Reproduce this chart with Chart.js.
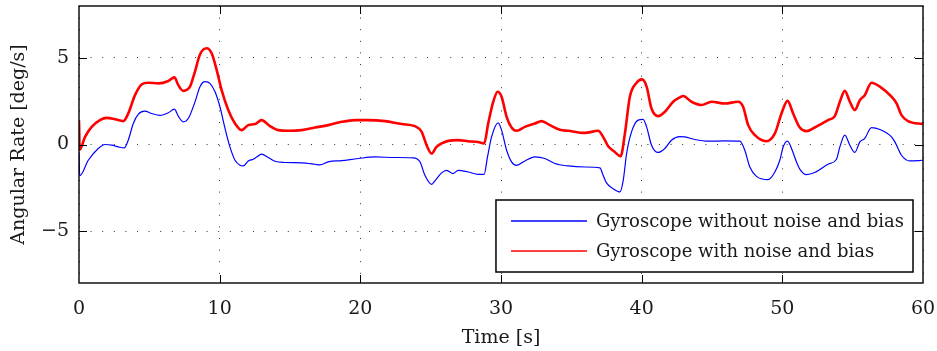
<!DOCTYPE html>
<html>
<head>
<meta charset="utf-8">
<title>Gyroscope angular rate</title>
<script src="https://cdn.jsdelivr.net/npm/chart.js@4/dist/chart.umd.min.js"></script>
<style>
  html, body { margin: 0; padding: 0; background: #fff; }
  #wrap { width: 937px; height: 351px; }
</style>
</head>
<body>
<div id="wrap"><canvas id="gyroChart"></canvas></div>
<script>
// time [s] and angular rate [deg/s] for the ideal gyroscope
const timeClean = [0, 0.05, 0.66, 1.37, 1.85, 2.33, 2.8, 3.22, 3.5, 3.86, 4.22, 4.69, 5.17, 5.76, 6.35, 6.78, 7.06, 7.41, 7.77, 8.24, 8.6, 8.96, 9.31, 9.67, 10.02, 10.38, 10.73, 11.09, 11.44, 11.68, 12.03, 12.39, 12.63, 12.98, 13.45, 13.93, 14.64, 15.83, 16.77, 17.13, 17.72, 18.67, 19.85, 21.04, 22.46, 23.76, 24.24, 24.59, 25.07, 25.3, 25.78, 26.13, 26.6, 26.96, 27.67, 28.38, 28.8, 29.04, 29.33, 29.8, 30.04, 30.4, 30.75, 31.11, 31.7, 32.41, 33.12, 33.83, 34.78, 35.96, 37.03, 37.26, 37.5, 37.97, 38.45, 38.69, 38.93, 39.28, 39.75, 40.1, 40.35, 40.7, 41.17, 41.65, 42.12, 42.71, 43.07, 43.78, 44.73, 45.91, 46.98, 47.33, 47.69, 48.16, 48.99, 49.47, 49.82, 50.06, 50.37, 50.7, 51.0, 51.24, 51.71, 52.3, 53.25, 53.85, 54.09, 54.44, 54.8, 55.15, 55.51, 55.86, 56.34, 56.93, 57.76, 58.0, 58.47, 59.06, 60];
const rateClean = [-0.45, -1.8, -0.91, -0.23, 0.0, -0.04, -0.14, -0.2, 0.25, 1.21, 1.75, 1.93, 1.79, 1.68, 1.83, 2.04, 1.64, 1.31, 1.5, 2.45, 3.34, 3.63, 3.53, 3.05, 2.18, 0.93, -0.14, -0.91, -1.2, -1.24, -0.95, -0.85, -0.72, -0.56, -0.75, -0.97, -1.04, -1.06, -1.14, -1.18, -1.0, -0.93, -0.81, -0.72, -0.75, -0.77, -1.0, -1.78, -2.3, -2.1, -1.64, -1.49, -1.68, -1.49, -1.59, -1.72, -1.72, -0.72, 0.44, 1.25, 0.83, -0.33, -1.0, -1.2, -0.95, -0.72, -0.81, -1.1, -1.24, -1.3, -1.35, -1.78, -2.22, -2.55, -2.74, -2.07, -0.52, 0.73, 1.41, 1.45, 1.02, -0.04, -0.46, -0.23, 0.25, 0.46, 0.44, 0.29, 0.19, 0.21, 0.19, -0.33, -1.3, -1.84, -2.03, -1.59, -0.91, -0.14, 0.19, -0.33, -1.0, -1.42, -1.74, -1.62, -1.14, -0.85, -0.14, 0.54, -0.04, -0.46, 0.15, 0.35, 0.98, 0.87, 0.44, 0.15, -0.62, -0.95, -0.91];

// same motion, measured with noise and bias
const timeNoisy = [0, 0.05, 0.43, 0.9, 1.49, 1.97, 2.56, 3.15, 3.5, 3.98, 4.45, 4.93, 5.64, 6.35, 6.78, 7.06, 7.41, 7.89, 8.24, 8.6, 9.08, 9.43, 9.79, 10.14, 10.61, 11.09, 11.56, 12.03, 12.51, 12.98, 13.57, 14.16, 14.88, 15.83, 16.77, 17.72, 18.67, 19.62, 20.56, 21.75, 22.93, 23.88, 24.36, 24.71, 25.07, 25.4, 25.78, 26.25, 26.96, 27.67, 28.38, 28.8, 29.09, 29.45, 29.76, 30.04, 30.4, 30.75, 31.11, 31.7, 32.41, 32.88, 33.48, 34.19, 34.78, 35.96, 36.91, 37.26, 37.62, 38.09, 38.5, 38.81, 39.16, 39.64, 40.03, 40.35, 40.7, 41.17, 41.65, 42.24, 42.71, 42.95, 43.54, 44.25, 44.97, 45.91, 46.86, 47.21, 47.57, 48.05, 48.87, 49.47, 49.94, 50.37, 50.77, 51.24, 51.71, 52.3, 53.25, 53.73, 54.09, 54.44, 54.8, 55.15, 55.51, 55.86, 56.34, 56.93, 57.76, 58.12, 58.47, 58.94, 60];
const rateNoisy = [1.4, -0.3, 0.44, 1.02, 1.41, 1.54, 1.46, 1.35, 1.79, 2.85, 3.47, 3.57, 3.53, 3.67, 3.88, 3.43, 3.1, 3.34, 4.2, 5.2, 5.56, 5.27, 4.3, 3.14, 1.99, 1.21, 0.83, 1.12, 1.18, 1.41, 1.06, 0.83, 0.79, 0.83, 0.98, 1.12, 1.31, 1.41, 1.41, 1.35, 1.18, 1.06, 0.73, -0.04, -0.52, -0.15, 0.06, 0.21, 0.25, 0.19, 0.14, 0.06, 1.21, 2.47, 3.05, 2.76, 1.6, 0.98, 0.79, 1.02, 1.21, 1.35, 1.12, 0.85, 0.79, 0.67, 0.79, 0.44, -0.1, -0.43, -0.68, 0.64, 2.76, 3.57, 3.76, 3.34, 2.08, 1.64, 1.89, 2.47, 2.72, 2.8, 2.47, 2.28, 2.47, 2.37, 2.47, 2.18, 1.12, 0.54, 0.19, 0.64, 1.79, 2.52, 1.79, 0.98, 0.77, 0.98, 1.41, 1.64, 2.47, 3.1, 2.47, 1.99, 2.56, 2.85, 3.57, 3.34, 2.76, 2.37, 1.7, 1.35, 1.18];

const xTicks = [0, 10, 20, 30, 40, 50, 60];
const yTicks = [-5, 0, 5];
const seriesLabels = ['Gyroscope without noise and bias', 'Gyroscope with noise and bias'];

const serif = "'DejaVu Serif', serif";
Chart.defaults.font.family = serif;
Chart.defaults.font.size = 18;
Chart.defaults.color = '#1a1a1a';

const toPoints = (xs, ys) => xs.map((x, i) => ({ x: x, y: ys[i] }));

// dotted grid, same look on both axes
const gridOpts = { color: '#333', lineWidth: 1, drawTicks: false };
const borderOpts = { display: false, dash: [1, 10.6] };

// closed frame with inward tick marks
const framePlugin = {
    id: 'frame',
    afterDatasetsDraw(chart) {
        const { ctx, chartArea: a, scales } = chart;
        ctx.save();
        ctx.strokeStyle = '#000';
        ctx.lineWidth = 1.4;
        ctx.strokeRect(a.left, a.top, a.right - a.left, a.bottom - a.top);
        ctx.lineWidth = 1;
        const len = 8;
        ctx.beginPath();
        xTicks.slice(1, -1).forEach(v => {
            const px = Math.round(scales.x.getPixelForValue(v)) + 0.5;
            ctx.moveTo(px, a.bottom); ctx.lineTo(px, a.bottom - len);
            ctx.moveTo(px, a.top); ctx.lineTo(px, a.top + len);
        });
        yTicks.forEach(v => {
            const py = Math.round(scales.y.getPixelForValue(v)) + 0.5;
            ctx.moveTo(a.left, py); ctx.lineTo(a.left + len, py);
            ctx.moveTo(a.right, py); ctx.lineTo(a.right - len, py);
        });
        ctx.stroke();
        ctx.restore();
    }
};

// boxed legend in the lower right corner of the plot
const boxLegendPlugin = {
    id: 'boxLegend',
    afterDraw(chart) {
        const { ctx, chartArea: a } = chart;
        const sets = chart.data.datasets;
        ctx.save();
        ctx.font = '18px ' + serif;
        const textW = Math.max(...sets.map(d => ctx.measureText(d.label).width));
        const right = a.right - 10;
        const bottom = a.bottom - 11;
        const w = textW + 109;
        const h = 72;
        const left = right - w;
        const top = bottom - h;
        ctx.fillStyle = '#fff';
        ctx.fillRect(left, top, w, h);
        ctx.strokeStyle = '#000';
        ctx.lineWidth = 1.5;
        ctx.strokeRect(left, top, w, h);
        sets.forEach((d, i) => {
            const y = top + 21 + i * 30;
            ctx.strokeStyle = d.borderColor;
            ctx.lineWidth = 1.5;
            ctx.beginPath();
            ctx.moveTo(left + 15, y);
            ctx.lineTo(left + 91, y);
            ctx.stroke();
            ctx.fillStyle = '#1a1a1a';
            ctx.textBaseline = 'middle';
            ctx.textAlign = 'left';
            ctx.fillText(d.label, left + 100, y + 1);
        });
        ctx.restore();
    }
};

new Chart(document.getElementById('gyroChart'), {
    type: 'line',
    data: {
        datasets: [
            {
                label: seriesLabels[0],
                data: toPoints(timeClean, rateClean),
                borderColor: '#0000ff',
                borderWidth: 1.2,
                pointRadius: 0,
                cubicInterpolationMode: 'monotone'
            },
            {
                label: seriesLabels[1],
                data: toPoints(timeNoisy, rateNoisy),
                borderColor: '#ff0000',
                borderWidth: 2.6,
                pointRadius: 0,
                cubicInterpolationMode: 'monotone'
            }
        ]
    },
    options: {
        responsive: true,
        maintainAspectRatio: false,
        animation: false,
        layout: { padding: { left: 8, right: 14, top: 6, bottom: 2 } },
        plugins: {
            legend: { display: false },
            tooltip: { enabled: false }
        },
        scales: {
            x: {
                type: 'linear',
                min: 0,
                max: 60,
                afterBuildTicks: s => { s.ticks = xTicks.map(v => ({ value: v })); },
                ticks: { padding: 15, font: { size: 19 } },
                grid: gridOpts,
                border: borderOpts,
                title: { display: true, text: 'Time [s]', font: { size: 19 }, padding: { top: 0, bottom: 0 } },
                afterFit: s => {
                    s.height = 66;
                    s.paddingLeft = 0;
                    s.paddingRight = 0;
                }
            },
            y: {
                type: 'linear',
                min: -8,
                max: 8,
                afterBuildTicks: s => { s.ticks = yTicks.map(v => ({ value: v })); },
                ticks: {
                    padding: 10,
                    font: { size: 19 },
                    callback: v => (v < 0 ? '\u2212' + Math.abs(v) : String(v))
                },
                grid: gridOpts,
                border: borderOpts,
                title: { display: true, text: 'Angular Rate [deg/s]', font: { size: 19 }, padding: { top: 0, bottom: 0 } },
                afterFit: s => {
                    s.width = 71;
                    s.paddingTop = 0;
                    s.paddingBottom = 0;
                }
            }
        }
    },
    plugins: [framePlugin, boxLegendPlugin]
});
</script>
</body>
</html>
